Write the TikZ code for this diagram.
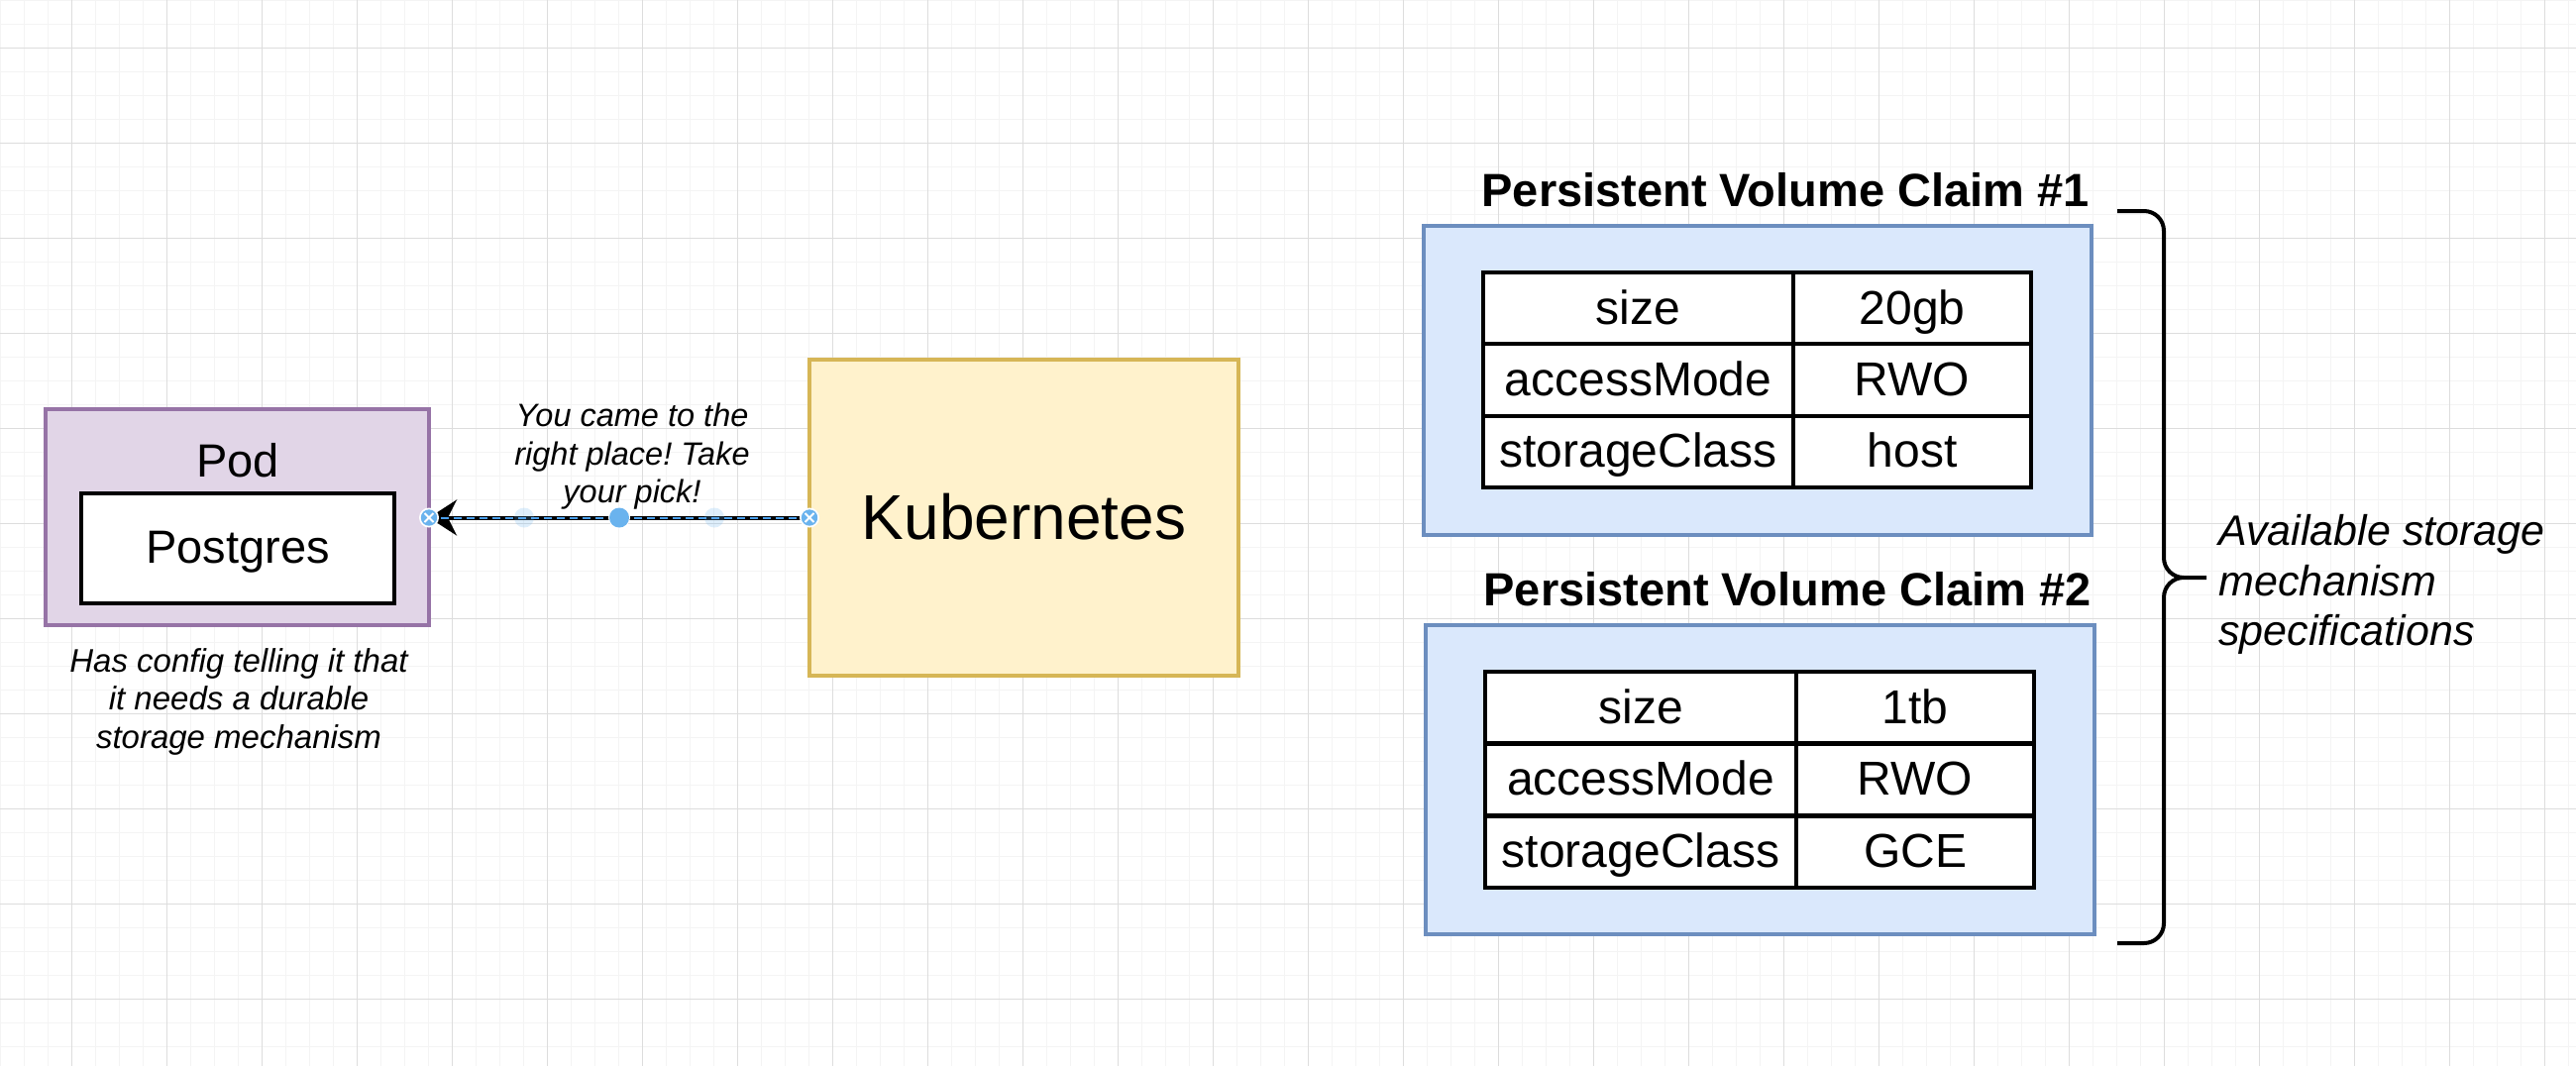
\documentclass[tikz,border=0pt]{standalone}
\usepackage{fontspec}
\setmainfont{Liberation Sans}
\usetikzlibrary{arrows.meta}
\frenchspacing
\definecolor{gridminor}{HTML}{F4F4F4}
\definecolor{gridmajor}{HTML}{DDDDDD}
\definecolor{podfill}{HTML}{E1D5E7}
\definecolor{podline}{HTML}{9673A6}
\definecolor{kfill}{HTML}{FFF2CC}
\definecolor{kline}{HTML}{D6B656}
\definecolor{pvcfill}{HTML}{DAE8FC}
\definecolor{pvcline}{HTML}{6C8EBF}
\definecolor{selblue}{HTML}{4A9FEB}
\definecolor{handleblue}{HTML}{6AB3EE}
\begin{document}
\begin{tikzpicture}[x=0.5pt,y=-0.5pt,
  box/.style={draw, rectangle, line width=2pt, inner sep=0pt, outer sep=0pt},
  cell/.style={draw, rectangle, fill=white, line width=2pt, inner sep=0pt, outer sep=0pt,
    minimum height=36.17pt, font=\fontsize{24}{28}\selectfont, text height=20.6pt, text depth=4.8pt},
  colA/.style={cell, minimum width=156.5pt},
  colB/.style={cell, minimum width=120pt},
  title/.style={font=\bfseries\fontsize{23.5}{28}\selectfont, inner sep=0pt, anchor=base east},
  note/.style={font=\itshape\fontsize{16.25}{19.25}\selectfont, inner sep=0pt, align=center},
  conn/.style={line width=2pt, -{Stealth[length=14pt,width=18pt,inset=4.5pt]}},
  bracestyle/.style={line width=2pt, rounded corners=10pt}
]
\useasboundingbox (0,0) rectangle (2600,1076);
\fill[white] (0,0) rectangle (2600,1076);
% grid
\foreach \x in {0,24,...,2600} \draw[gridminor, line width=0.5pt] (\x,0) -- (\x,1076);
\foreach \y in {0,24,...,1076} \draw[gridminor, line width=0.5pt] (0,\y) -- (2600,\y);
\foreach \x in {72,168,...,2600} \draw[gridmajor, line width=0.5pt] (\x,0) -- (\x,1076);
\foreach \y in {48,144,...,1076} \draw[gridmajor, line width=0.5pt] (0,\y) -- (2600,\y);

% Pod
\node[box, draw=podline, fill=podfill, minimum width=193.5pt, minimum height=109pt] (pod) at (239.5,522) {};
\node[inner sep=0pt, anchor=base, font=\fontsize{23.5}{28}\selectfont] (podlabel) at (240,481) {Pod};
\node[box, fill=white, minimum width=158pt, minimum height=55.5pt, font=\fontsize{23.5}{28}\selectfont,
  text height=19.3pt, text depth=4.7pt] (postgres) at (240,553.5) {Postgres};
\node[note, font=\itshape\fontsize{16.5}{19.25}\selectfont, anchor=north] (podnote) at (241,654)
  {Has config telling it that\\it needs a durable\\storage mechanism};

% Kubernetes
\node[box, draw=kline, fill=kfill, minimum width=216.5pt, minimum height=159.5pt,
  font=\fontsize{32}{38}\selectfont, text height=28.8pt, text depth=6.4pt] (kube) at (1033.5,522.5) {Kubernetes};

% connector
\draw[conn] (kube.west) -- (kube.west -| pod.east);
\node[note, anchor=north] (picklabel) at (638,407) {You came to the\\right place! Take\\your pick!};

% selection overlay of the connector
\draw[selblue, line width=1pt, dash pattern=on 4pt off 2.5pt] (kube.west) -- (kube.west -| pod.east);
\fill[handleblue, opacity=0.22] (529,522.5) circle (5pt);
\fill[handleblue, opacity=0.22] (721,522.5) circle (5pt);
\fill[white] (625,522.5) circle (5.5pt);
\fill[handleblue] (625,522.5) circle (5pt);
\foreach \hx in {433,817} {
  \fill[white] (\hx,522.5) circle (5pt);
  \fill[handleblue] (\hx,522.5) circle (4.1pt);
  \draw[white, line width=0.9pt] (\hx-4.5,518) -- (\hx+4.5,527) (\hx-4.5,527) -- (\hx+4.5,518);
}

% PVC 1
\node[title] (t1) at (2109,208) {Persistent Volume Claim \#1};
\node[box, draw=pvcline, fill=pvcfill, minimum width=337pt, minimum height=156pt] (pvc1) at (1774,384) {};
\node[colA] (a11) at (1653.5,311.2) {size};
\node[colB] (b11) at (1930,311.2) {20gb};
\node[colA] (a12) at (1653.5,383.5) {accessMode};
\node[colB] (b12) at (1930,383.5) {RWO};
\node[colA] (a13) at (1653.5,455.8) {storageClass};
\node[colB] (b13) at (1930,455.8) {host};

% PVC 2
\node[title] (t2) at (2111,611) {Persistent Volume Claim \#2};
\node[box, draw=pvcline, fill=pvcfill, minimum width=337.5pt, minimum height=156pt] (pvc2) at (1776.5,787) {};
\node[colA, minimum width=157pt] (a21) at (1656,714.3) {size};
\node[colB] (b21) at (1933,714.3) {1tb};
\node[colA, minimum width=157pt] (a22) at (1656,787) {accessMode};
\node[colB] (b22) at (1933,787) {RWO};
\node[colA, minimum width=157pt] (a23) at (1656,859.7) {storageClass};
\node[colB] (b23) at (1933,859.7) {GCE};

% brace
\draw[bracestyle] (2137,213) -- (2184,213) -- (2184,583) -- (2227,583)
                  (2227,583) -- (2184,583) -- (2184,952) -- (2137,952);
\node[font=\itshape\fontsize{21.5}{25.25}\selectfont, inner sep=0pt, align=left, anchor=north west]
  (bracenote) at (2239,519) {Available storage\\mechanism\\specifications};
\end{tikzpicture}
\end{document}
